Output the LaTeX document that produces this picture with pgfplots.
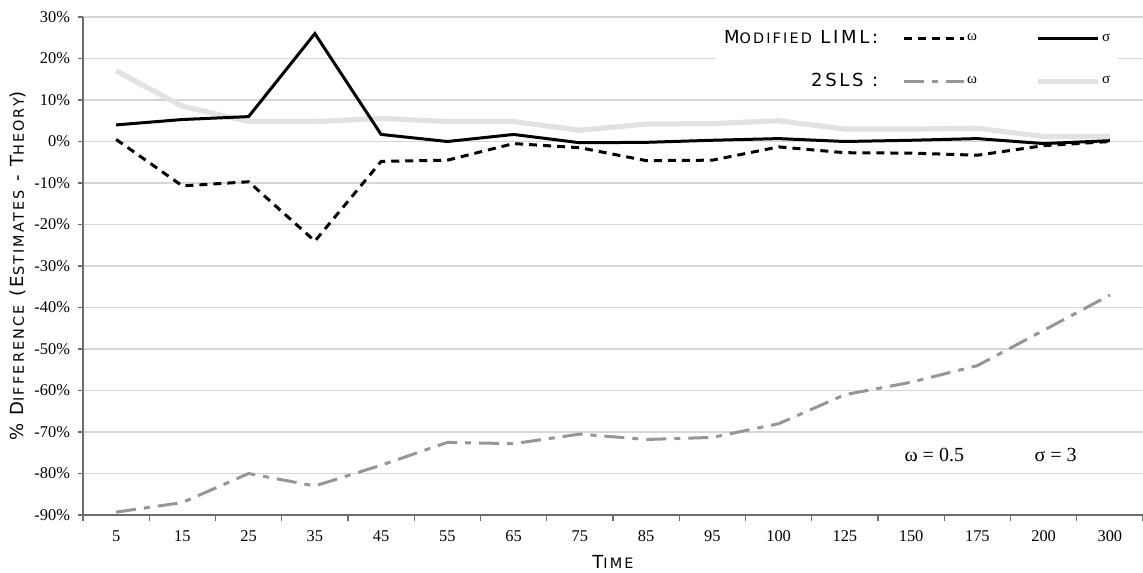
\documentclass[border=0pt]{standalone}
\usepackage{fontspec}
\setmainfont{Liberation Serif}
\newfontfamily\labfont[LetterSpace=15]{DejaVu Sans}
\usepackage{pgfplots}
\usepackage{pgfplotstable}
\pgfplotsset{compat=1.18}
\newcommand{\bigc}{\fontsize{9pt}{10pt}\selectfont}
\newcommand{\fsc}[1]{{\fontsize{7.2pt}{8pt}\selectfont #1}}
\definecolor{midgray}{RGB}{150,150,150}
\definecolor{lightgray2}{RGB}{226,226,226}
\definecolor{axgray}{RGB}{110,110,110}

\pgfplotstableread{
x limlw limls slsw slss
0 0.5 4.0 -89.3 17.0
1 -10.7 5.3 -87.0 8.5
2 -9.7 6.0 -80.0 4.8
3 -24.0 26.0 -83.0 4.8
4 -4.8 1.7 -78.0 5.6
5 -4.5 0.0 -72.5 4.8
6 -0.5 1.7 -72.8 4.8
7 -1.5 -0.3 -70.5 2.7
8 -4.6 -0.2 -71.8 4.2
9 -4.5 0.3 -71.3 4.3
10 -1.3 0.7 -68.0 5.0
11 -2.7 0.0 -61.0 3.0
12 -2.8 0.3 -58.0 3.0
13 -3.3 0.7 -54.0 3.2
14 -1.0 -0.5 -45.5 1.2
15 0.0 0.2 -37.0 1.2
}\datatable

\begin{document}
\begin{tikzpicture}
\begin{axis}[
  scale only axis, width=530pt, height=249pt,
  xmin=-0.5, xmax=15.5, ymin=-90, ymax=30,
  axis x line*=bottom, axis y line*=left,
  axis line style={draw=axgray, line width=0.8pt},
  tick align=outside,
  xtick={0,...,15},
  xticklabels={5,15,25,35,45,55,65,75,85,95,100,125,150,175,200,300},
  major x tick style={draw=none},
  minor xtick={-0.5,0.5,...,15.5},
  minor x tick style={draw=axgray, line width=0.6pt},
  minor tick length=3pt,
  ytick={-90,-80,...,30},
  major y tick style={draw=axgray, line width=0.6pt},
  major tick length=2.5pt,
  ymajorgrids,
  grid style={draw=black!16, line width=0.6pt},
  yticklabel={\pgfmathprintnumber{\tick}\%},
  /pgf/number format/assume math mode=true,
  ticklabel style={font=\fontsize{8.2pt}{9pt}\selectfont},
  yticklabel style={xshift=-0.5pt},
  xticklabel style={yshift=-2pt},
  every axis y label/.style={at={(axis description cs:-0.061,0.5)}, rotate=90, anchor=center},
  every axis x label/.style={at={(axis description cs:0.5,-0.094)}, anchor=center},
  ylabel={\labfont\bigc \% D\fsc{IFFERENCE} (E\fsc{STIMATES} - T\fsc{HEORY})},
  xlabel={\labfont\bigc T\fsc{IME}},
  legend columns=3,
  legend cell align=right,
  legend style={draw=none, fill=white, at={(rel axis cs:0.977,0.985)}, anchor=north east,
    font=\fontsize{7.5pt}{9pt}\selectfont, row sep=11pt,
    nodes={inner xsep=1pt, inner ysep=1pt}},
  /tikz/every even column/.append style={column sep=28pt},
  legend image code/.code={\draw[#1] (0pt,0pt) -- (30pt,0pt);},
]
\addplot[lightgray2, line width=2.6pt, forget plot] table[x=x,y=slss]{\datatable};
\addplot[midgray, line width=1.5pt, dash pattern=on 10pt off 4pt on 3pt off 4pt, forget plot] table[x=x,y=slsw]{\datatable};
\addplot[black, line width=1.5pt, dash pattern=on 4pt off 3pt, forget plot] table[x=x,y=limlw]{\datatable};
\addplot[black, line width=1.5pt, forget plot] table[x=x,y=limls]{\datatable};

\addlegendimage{empty legend}
\addlegendentry{\labfont\bigc M\fsc{ODIFIED} LIML:\kern-17pt}
\addlegendimage{black, line width=1.5pt, dash pattern=on 4pt off 3pt}
\addlegendentry{ω}
\addlegendimage{black, line width=1.5pt}
\addlegendentry{σ}
\addlegendimage{empty legend}
\addlegendentry{\labfont\bigc 2SLS :\kern-17pt}
\addlegendimage{midgray, line width=1.5pt, dash pattern=on 10pt off 4pt on 3pt off 4pt}
\addlegendentry{ω}
\addlegendimage{lightgray2, line width=2.6pt}
\addlegendentry{σ}

\node[font=\fontsize{10pt}{11pt}\selectfont] at (axis cs:12.35,-75.5) {ω = 0.5};
\node[font=\fontsize{10pt}{11pt}\selectfont] at (axis cs:14.18,-75.5) {σ = 3};
\end{axis}
\pgfresetboundingbox
\path ([shift={(-41.5pt,-28.5pt)}]current axis.south west) rectangle ([shift={(0pt,8.5pt)}]current axis.north east);
\end{tikzpicture}
\end{document}
